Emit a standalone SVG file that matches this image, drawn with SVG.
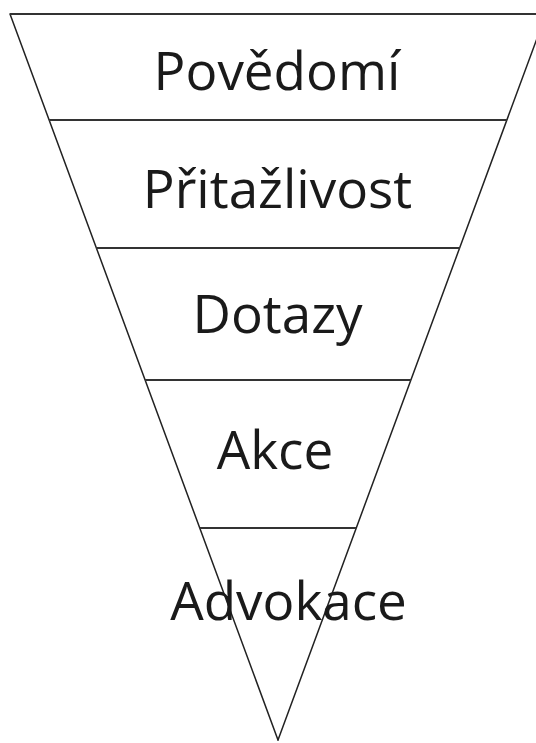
<svg xmlns="http://www.w3.org/2000/svg" width="536" height="743" viewBox="0 0 536 743">
<style>
.edge{fill:none;stroke:#222;stroke-width:1.5;stroke-linecap:round}
.div{fill:none;stroke:#333;stroke-width:2}
.lbl{font-family:"Open Sans","Noto Sans",sans-serif;font-size:53px;fill:#1a1a1a;text-anchor:middle}
</style>
<rect width="536" height="743" fill="#fff"/>
<g id="connectors">
<line class="edge" x1="10" y1="14" x2="278" y2="740"/>
<line class="edge" x1="546" y1="14" x2="278" y2="740"/>
<line class="div" x1="10" y1="14" x2="546" y2="14"/>
<line class="div" x1="49" y1="120" x2="507" y2="120"/>
<line class="div" x1="96" y1="248" x2="460" y2="248"/>
<line class="div" x1="145" y1="380" x2="411" y2="380"/>
<line class="div" x1="200" y1="528" x2="356" y2="528"/>
</g>
<g id="node-povedomi"><text class="lbl" x="277" y="90">Povědomí</text></g>
<g id="node-pritazlivost"><text class="lbl" x="277.5" y="208">Přitažlivost</text></g>
<g id="node-dotazy"><text class="lbl" x="277.5" y="333">Dotazy</text></g>
<g id="node-akce"><text class="lbl" x="275" y="469">Akce</text></g>
<g id="node-advokace"><text class="lbl" x="288.5" y="620">Advokace</text></g>
</svg>
